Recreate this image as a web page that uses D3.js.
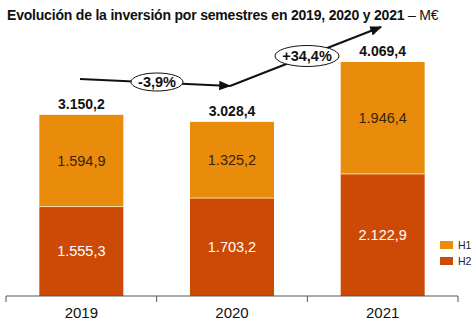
<!DOCTYPE html>
<html><head><meta charset="utf-8">
<script src="https://cdn.jsdelivr.net/npm/d3@7"></script>
<style>body{margin:0;background:#fff}svg{display:block}</style>
</head><body>
<svg id="c" width="474" height="331"></svg>
<script>
const years = ["2019","2020","2021"];
const h2 = [1555.3, 1703.2, 2122.9];
const h1 = [1594.9, 1325.2, 1946.4];
const totals = [3150.2, 3028.4, 4069.4];
const totalLabels = ["3.150,2","3.028,4","4.069,4"];
const h1Labels = ["1.594,9","1.325,2","1.946,4"];
const h2Labels = ["1.555,3","1.703,2","2.122,9"];
const growthLabels = ["-3,9%","+34,4%"];
const seriesNames = ["H1","H2"];

const colH1 = "#E98C0C", colH2 = "#CC4A05";
const svg = d3.select("#c");
const font = "Arial, 'Liberation Sans', sans-serif";

const x = d3.scaleBand().domain(years).range([6,458]).paddingInner(0).paddingOuter(0);
const y = d3.scaleLinear().domain([0,4069.4]).range([296,62]);
const bw = 84;
const cx = d => x(d) + x.bandwidth()/2;

// title
const t = svg.append("text").attr("x",7).attr("y",20).attr("font-family",font).attr("font-size",14).attr("letter-spacing",-0.2).attr("fill","#111");
t.append("tspan").attr("font-weight","bold").text("Evolución de la inversión por semestres en 2019, 2020 y 2021 ");
t.append("tspan").attr("font-weight","normal").text("– M€");

// bars
const g = svg.append("g");
years.forEach((yr,i)=>{
  g.append("rect").attr("x",cx(yr)-bw/2).attr("width",bw).attr("y",y(h2[i])).attr("height",y(0)-y(h2[i])).attr("fill",colH2);
  g.append("rect").attr("x",cx(yr)-bw/2).attr("width",bw).attr("y",y(h2[i]+h1[i])).attr("height",y(h2[i])-y(h2[i]+h1[i])).attr("fill",colH1);
  g.append("line").attr("x1",cx(yr)-bw/2).attr("x2",cx(yr)+bw/2).attr("y1",y(h2[i])).attr("y2",y(h2[i])).attr("stroke","#f3d9a8").attr("stroke-width",1);
  g.append("text").attr("x",cx(yr)).attr("y",(y(h2[i])+y(0))/2+5).attr("text-anchor","middle").attr("font-family",font).attr("font-size",14.5).attr("fill","#fff").text(h2Labels[i]);
  g.append("text").attr("x",cx(yr)).attr("y",(y(h2[i])+y(h2[i]+h1[i]))/2+5).attr("text-anchor","middle").attr("font-family",font).attr("font-size",14.5).attr("fill","#3a2206").text(h1Labels[i]);
  g.append("text").attr("x",cx(yr)).attr("y",y(totals[i])-6).attr("text-anchor","middle").attr("font-family",font).attr("font-size",14).attr("font-weight","bold").attr("fill","#111").text(totalLabels[i]);
});

// axis
const ax = svg.append("g").attr("transform","translate(0,296)");
ax.append("line").attr("x1",6).attr("x2",458).attr("stroke","#555");
[6, ...years.map(d=>x(d)+x.bandwidth())].forEach(v=>{
  ax.append("line").attr("x1",v).attr("x2",v).attr("y1",0).attr("y2",6).attr("stroke","#555");
});
years.forEach(yr=>{
  ax.append("text").attr("x",cx(yr)).attr("y",22).attr("text-anchor","middle").attr("font-family",font).attr("font-size",15).attr("fill","#111").text(yr);
});

// trend arrow
const defs = svg.append("defs");
defs.append("marker").attr("id","ah").attr("viewBox","0 0 10 10").attr("refX",9).attr("refY",5).attr("markerWidth",6).attr("markerHeight",6).attr("orient","auto")
  .append("path").attr("d","M0,1 L10,5 L0,9 Z").attr("fill","#111");
const pts = [[80,79],[230,86],[381,27]];
svg.append("line").attr("x1",pts[0][0]).attr("y1",pts[0][1]).attr("x2",pts[1][0]).attr("y2",pts[1][1]).attr("stroke","#111").attr("stroke-width",2).attr("marker-end","url(#ah)");
svg.append("line").attr("x1",pts[1][0]).attr("y1",pts[1][1]).attr("x2",pts[2][0]).attr("y2",pts[2][1]).attr("stroke","#111").attr("stroke-width",2).attr("marker-end","url(#ah)");
const ells = [[157,82,26,9],[307,56,32,10.5]];
ells.forEach((e,i)=>{
  svg.append("ellipse").attr("cx",e[0]).attr("cy",e[1]).attr("rx",e[2]).attr("ry",e[3]).attr("fill","#fff").attr("stroke","#111").attr("stroke-width",1);
  svg.append("text").attr("x",e[0]).attr("y",e[1]+5).attr("text-anchor","middle").attr("font-family",font).attr("font-size",14.5).attr("font-weight","bold").attr("fill","#111").text(growthLabels[i]);
});

// legend
const lg = svg.append("g");
[colH1,colH2].forEach((c,i)=>{
  lg.append("rect").attr("x",440).attr("y",241+i*16).attr("width",13).attr("height",8).attr("fill",c);
  lg.append("text").attr("x",458).attr("y",249+i*16).attr("font-family",font).attr("font-size",10.5).attr("fill","#222").text(seriesNames[i]);
});
</script>
</body></html>
